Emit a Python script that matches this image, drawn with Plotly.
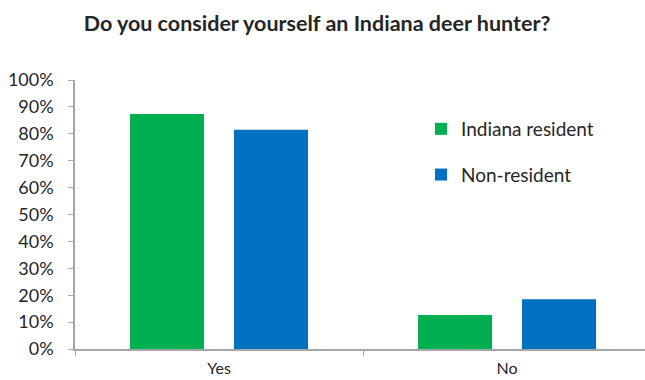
import plotly.graph_objects as go

# Survey responses (share of respondents)
categories = ["Yes", "No"]
indiana_resident = [0.874, 0.126]
non_resident = [0.815, 0.185]
series_names = ["Indiana resident", "Non-resident"]
title_text = "Do you consider yourself an Indiana deer hunter?"

GREEN = "#00B050"
BLUE = "#0070C0"
AXIS_GREY = "#A6A6A6"
TEXT = "#262626"
FONT = "Lato, 'Open Sans', sans-serif"

fig = go.Figure()
fig.add_trace(go.Bar(
    x=categories, y=indiana_resident, name=series_names[0],
    marker=dict(color=GREEN, line=dict(width=0)),
    legendgroup="a",
))
fig.add_trace(go.Bar(
    x=categories, y=non_resident, name=series_names[1],
    marker=dict(color=BLUE, line=dict(width=0)),
    legendgroup="b",
))

fig.update_layout(
    width=645, height=380,
    margin=dict(l=75, r=0, t=80, b=31, pad=0, autoexpand=False),
    paper_bgcolor="white", plot_bgcolor="white",
    barmode="group", bargap=0.278, bargroupgap=0.288,
    font=dict(family=FONT, size=16, color=TEXT),
    title=dict(
        text="<b>" + title_text + "</b>",
        x=317 / 645, xanchor="center", xref="container",
        y=1 - 23 / 380, yanchor="middle", yref="container",
        automargin=False,
        font=dict(family=FONT, size=21.5, color=TEXT),
    ),
    showlegend=True,
    legend=dict(
        x=(441 - 75 - 20 + 6 - 6) / 570, xanchor="left",
        y=1 - (110 - 80) / 269, yanchor="top",
        traceorder="grouped", tracegroupgap=18,
        font=dict(family=FONT, size=19, color=TEXT),
        bgcolor="rgba(0,0,0,0)", borderwidth=0,
    ),
    xaxis=dict(
        range=[-0.5, 1.479], type="category", automargin=False,
        showline=True, linecolor=AXIS_GREY, linewidth=1.5,
        ticks="outside", tickson="boundaries", ticklen=5,
        tickcolor=AXIS_GREY, tickwidth=1,
        showgrid=False, zeroline=False,
        tickfont=dict(family=FONT, size=16, color=TEXT),
        ticklabelstandoff=4,
    ),
    yaxis=dict(
        range=[0, 1], dtick=0.1, tick0=0, tickformat=".0%", automargin=False,
        showline=True, linecolor=AXIS_GREY, linewidth=1.5,
        ticks="outside", ticklen=5, tickcolor=AXIS_GREY, tickwidth=1,
        showgrid=False, zeroline=False,
        tickfont=dict(family=FONT, size=18, color=TEXT),
        ticklabelstandoff=11,
    ),
)

fig.write_html("out.html")
